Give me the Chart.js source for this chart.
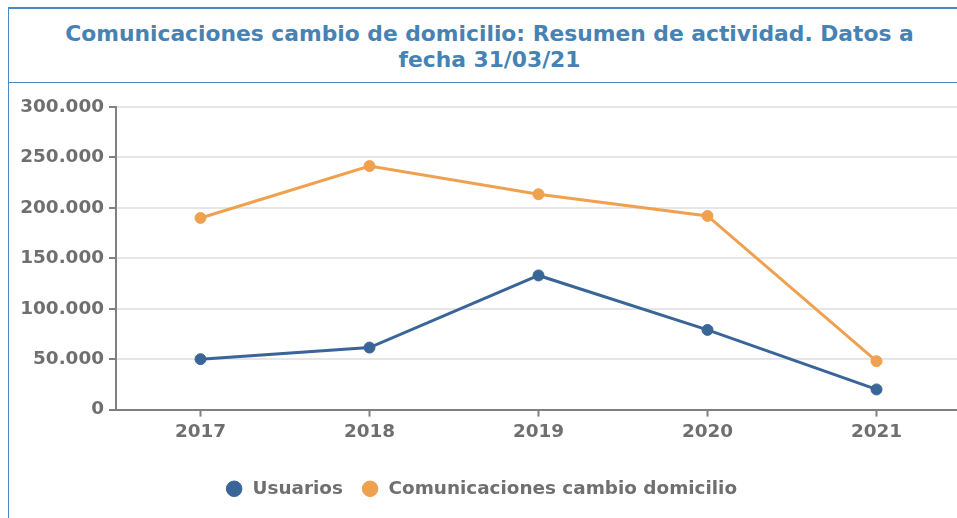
<!DOCTYPE html>
<html>
<head>
<meta charset="utf-8">
<script src="https://cdn.jsdelivr.net/npm/chart.js@4/dist/chart.umd.min.js"></script>
<style>
  html, body { margin: 0; padding: 0; overflow: hidden; background: #fff; }
  #box {
    position: absolute; left: 8px; top: 7px; width: 961px;
    border-top: 2px solid #4a86bf; border-left: 1px solid #4a86bf;
  }
  #title {
    height: 51px; padding: 12px 0 10px 0;
    border-bottom: 1px solid #4a86bf;
    font-family: "DejaVu Sans", sans-serif;
    font-weight: bold; font-size: 21.8px; line-height: 25.5px;
    color: #4682b4; text-align: center;
  }
  #wrap { position: relative; width: 961px; height: 435px; }
</style>
</head>
<body>
<div id="box">
  <div id="title">Comunicaciones cambio de domicilio: Resumen de actividad. Datos a<br>fecha 31/03/21</div>
  <div id="wrap"><canvas id="myChart"></canvas></div>
</div>
<script>
var years = ['2017', '2018', '2019', '2020', '2021'];
var usuarios = [50000, 61500, 133000, 79000, 20000];
var comunicaciones = [190000, 241500, 213500, 192000, 48000];

var grey = '#6f6f6f';
var axisGrey = '#808080';
var fs = 18.4;

function miles(v) {
    return String(v).replace(/\B(?=(\d{3})+(?!\d))/g, '.');
}

Chart.defaults.font.family = 'DejaVu Sans';

// legend sits a few px left of the chart centre in the original
var legendNudge = {
    id: 'legendNudge',
    afterLayout: function(chart) {
        chart.legend.left -= 4;
        chart.legend.right -= 4;
    }
};

var ctx = document.getElementById('myChart');
var myChart = new Chart(ctx, {
    type: 'line',
    data: {
        labels: years,
        datasets: [
            {
                label: 'Usuarios',
                data: usuarios,
                borderColor: '#3a6598',
                backgroundColor: '#3a6598',
                borderWidth: 3,
                pointRadius: 5.5,
                pointBorderWidth: 1
            },
            {
                label: 'Comunicaciones cambio domicilio',
                data: comunicaciones,
                borderColor: '#efa150',
                backgroundColor: '#efa150',
                borderWidth: 3,
                pointRadius: 5.5,
                pointBorderWidth: 1
            }
        ]
    },
    plugins: [legendNudge],
    options: {
        responsive: true,
        maintainAspectRatio: false,
        animation: false,
        layout: { padding: { top: 24, right: 9, bottom: 10, left: 0 } },
        plugins: {
            title: { display: false },
            tooltip: { enabled: false },
            legend: {
                position: 'bottom',
                labels: {
                    usePointStyle: true,
                    boxHeight: 11,
                    padding: 18,
                    color: grey,
                    font: { size: fs, weight: 'bold' }
                }
            }
        },
        scales: {
            x: {
                offset: true,
                grid: { drawOnChartArea: false, tickLength: 7, tickColor: axisGrey, tickWidth: 2 },
                border: { color: axisGrey, width: 2 },
                ticks: { color: grey, padding: 5, font: { size: fs, weight: 'bold' } },
                afterFit: function(s) { s.height = 52; }
            },
            y: {
                min: 0,
                max: 300000,
                grid: { color: '#e6e6e6', lineWidth: 2, tickLength: 7, tickColor: axisGrey, tickWidth: 2 },
                border: { color: axisGrey, width: 2 },
                ticks: {
                    stepSize: 50000,
                    color: grey,
                    padding: 5,
                    font: { size: fs, weight: 'bold' },
                    callback: function(v) { return miles(v); }
                },
                afterFit: function(s) { s.width = 107; }
            }
        }
    }
});
</script>
</body>
</html>
